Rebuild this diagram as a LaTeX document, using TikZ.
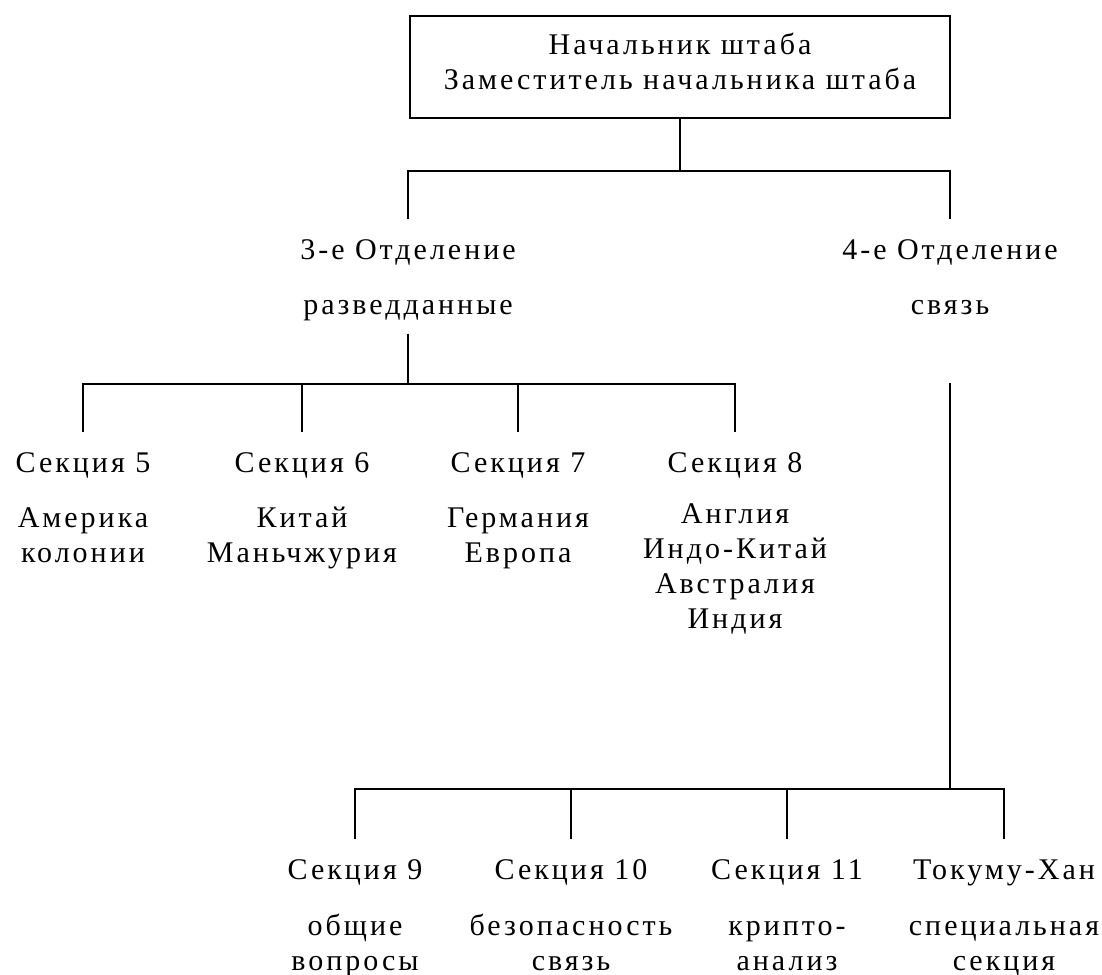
\documentclass[tikz,border=0pt]{standalone}
\usepackage{fontspec}
\setmainfont{Liberation Serif}[LetterSpace=10]

\begin{document}
\begin{tikzpicture}[x=0.5pt, y=-0.5pt, line width=0.8pt,
	every node/.style={font=\fontsize{15}{17.5}\selectfont},
	chief/.style={draw, align=center, minimum width=270pt, minimum height=51pt,
		execute at begin node=\strut, execute at end node=\strut},
	head/.style={anchor=base, text height=10pt, text depth=0pt, inner xsep=0pt, inner ysep=9.5pt},
	desc/.style={anchor=base, align=center, inner sep=0pt}]
	\useasboundingbox (0,0) rectangle (1102,974);

	\node[chief] (N) at (680,67) {Начальник штаба\\Заместитель начальника штаба};
	\node[head] (O3) at (408,259) {3-е Отделение};
	\node[head] (O3s) at (408,314) {разведданные};
	\node[head] (O4) at (950,259) {4-е Отделение};
	\node[head] (O4s) at (950,314) {связь};
	\coordinate (O4t) at (950,383);

	\node[head] (S5) at (83,472) {Секция 5};
	\node[head] (S6) at (302,472) {Секция 6};
	\node[head] (S7) at (518,472) {Секция 7};
	\node[head] (S8) at (735,472) {Секция 8};
	\node[desc] (S5d) at (83,562) {Америка\\колонии};
	\node[desc] (S6d) at (302,562) {Китай\\Маньчжурия};
	\node[desc] (S7d) at (518,562) {Германия\\Европа};
	\node[desc] (S8d) at (735,628) {Англия\\Индо-Китай\\Австралия\\Индия};

	\node[head] (S9) at (355,879) {Секция 9};
	\node[head] (S10) at (571,879) {Секция 10};
	\node[head] (S11) at (787,879) {Секция 11};
	\node[head] (T) at (1004,879) {Токуму-Хан};
	\node[desc] (S9d) at (355,970) {общие\\вопросы};
	\node[desc] (S10d) at (571,970) {безопасность\\связь};
	\node[desc] (S11d) at (787,970) {крипто-\\анализ};
	\node[desc] (Td) at (1004,970) {специальная\\секция};

	\draw (N.south) -- ++(0,52) coordinate (J1) -| (O3.north);
	\draw (J1) -| (O4.north);
	\draw (O3s.south) -- ++(0,50) coordinate (J2);
	\foreach \s in {S5,S6,S7,S8}
		\draw (J2) -| (\s.north);
	\draw (O4t) -- (950,789) coordinate (J3);
	\foreach \s in {S9,S10,S11,T}
		\draw (J3) -| (\s.north);
\end{tikzpicture}
\end{document}
